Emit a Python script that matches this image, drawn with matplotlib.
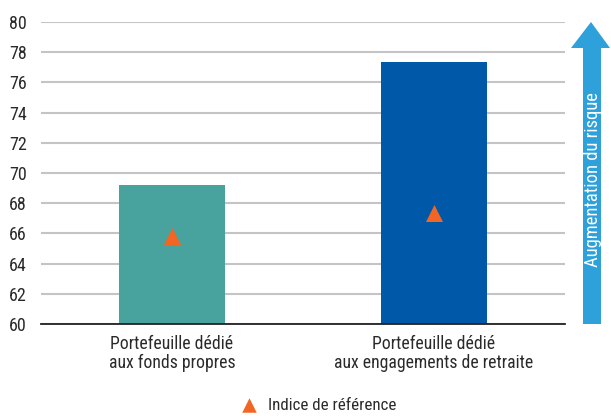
import matplotlib
matplotlib.use("Agg")
import matplotlib.pyplot as plt
from matplotlib.patches import Polygon
from matplotlib import font_manager
from matplotlib.textpath import TextPath
from matplotlib.font_manager import FontProperties

categories = ["Portefeuille dédié\naux fonds propres",
              "Portefeuille dédié\naux engagements de retraite"]
portfolio_values = [69.2, 77.35]
benchmark_values = [65.8, 67.35]
bar_colors = ["#48A39F", "#0059A8"]
yticks = list(range(60, 81, 2))
legend_label = "Indice de référence"
arrow_label = "Augmentation du risque"

names = {f.name for f in font_manager.fontManager.ttflist}
cands = [n for n in names if ("Condensed" in n or "Narrow" in n)]
pref = ["Liberation Sans Narrow", "Roboto Condensed", "DejaVu Sans Condensed"]
fam = None
for p in pref:
    if p in names:
        fam = p
        break
if fam is None:
    fam = cands[0] if cands else ("Lato" if "Lato" in names else "DejaVu Sans")
plt.rcParams["font.family"] = [fam, "DejaVu Sans"]


def fit_size(text, target_px, ref=12):
    tp = TextPath((0, 0), text, size=ref, prop=FontProperties(family=fam))
    w = tp.get_extents().width  # in points at size ref
    return ref * target_px / (w * 100 / 72)


cat_fs = fit_size("Portefeuille dédié", 120)
tick_fs = min(fit_size("80", 16), 13)
leg_fs = fit_size(legend_label, 126)
arr_fs = fit_size(arrow_label, 174)

W, H = 611, 416
fig = plt.figure(figsize=(W / 100, H / 100), dpi=100)
ax = fig.add_axes([41 / W, 1 - 324 / H, (565 - 41) / W, (324 - 22) / H])

x = list(range(len(categories)))
ax.bar(x, [v - 60 for v in portfolio_values], bottom=60, width=0.405,
       color=bar_colors, zorder=3)
ax.scatter(x, benchmark_values, marker="^", s=150, color="#F26522",
           zorder=4, linewidths=0, label=legend_label)

ax.set_xlim(-0.5, 1.5)
ax.set_ylim(60, 80)
ax.set_yticks(yticks)
ax.set_xticks(x)
ax.set_xticklabels(categories, fontsize=cat_fs, color="#2a2a2a", linespacing=1.05)
ax.tick_params(axis="y", labelsize=tick_fs, length=0, pad=10, colors="#2a2a2a")
ax.tick_params(axis="x", length=0, pad=8)
ax.yaxis.grid(True, color="#c4c4c4", linewidth=1.5, zorder=0)
for s in ["top", "right", "left"]:
    ax.spines[s].set_visible(False)
ax.spines["bottom"].set_color("#222222")
ax.spines["bottom"].set_linewidth(1.3)
ax.spines["bottom"].set_zorder(5)

leg = fig.legend(loc="center", bbox_to_anchor=(314.5 / W, 1 - 405 / H),
                 frameon=False, fontsize=leg_fs, handletextpad=0.1,
                 markerscale=0.85)
for t in leg.get_texts():
    t.set_color("#2a2a2a")

# risk arrow
aax = fig.add_axes([0, 0, 1, 1], facecolor="none")
aax.set_xlim(0, W)
aax.set_ylim(H, 0)
aax.axis("off")
pts = [(583, 324), (601, 324), (601, 48), (610, 48), (591, 22),
       (571, 48), (583, 48)]
aax.add_patch(Polygon(pts, closed=True, color="#2EA0DA", lw=0))
aax.text(592.5, 180, arrow_label, rotation=90, color="white", fontsize=arr_fs,
         ha="center", va="center")

fig.savefig("out.png", dpi=100)
